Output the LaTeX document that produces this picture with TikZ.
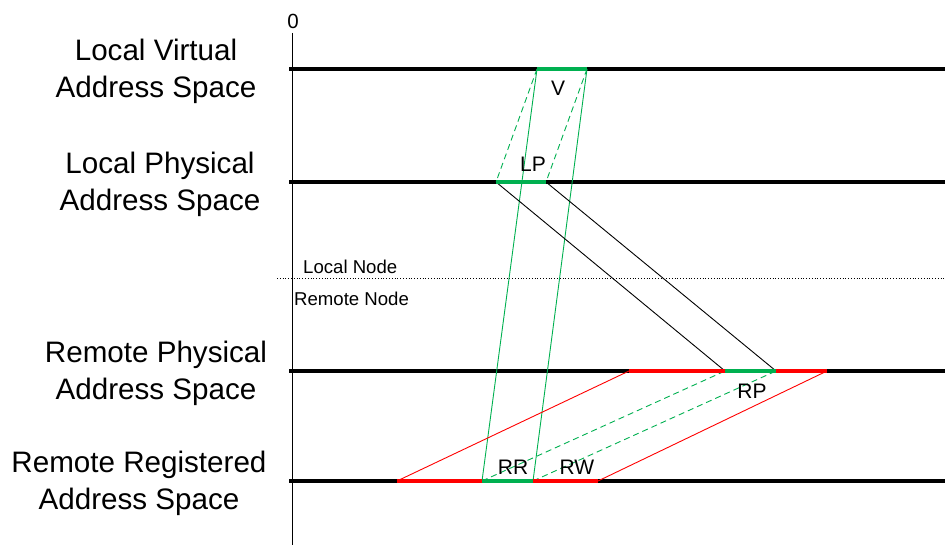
\documentclass[tikz,border=0pt]{standalone}
\usepackage{fontspec}
\setmainfont{Liberation Sans}
\definecolor{mygreen}{HTML}{00B050}
\definecolor{myred}{HTML}{FF0000}
\begin{document}
\begin{tikzpicture}[x=1pt,y=-1pt,
  axisline/.style={line width=4.5pt,black},
  greenseg/.style={line width=4.5pt,mygreen},
  redseg/.style={line width=4.5pt,myred},
  thinmap/.style={line width=0.9pt},
  biglabel/.style={font=\fontsize{29.6}{37}\selectfont,align=center,inner sep=0pt},
  seglabel/.style={font=\fontsize{21}{25}\selectfont,inner sep=0pt},
  smalllabel/.style={font=\fontsize{18.6}{22}\selectfont,inner sep=0pt}]
\useasboundingbox (0,0) rectangle (945,545);
% axis
\coordinate (axtop) at (292,33);
\coordinate (axbot) at (292,545);
\draw[line width=1pt] (axtop) -- (axbot);
\node[font=\fontsize{20.5}{24}\selectfont,inner sep=0pt] (zero) at (293,21) {0};
% horizontal address lines
\foreach \n/\y in {lv/69,lp/182,rp/371,rr/481}{
  \coordinate (\n L) at (289,\y);
  \coordinate (\n R) at (945,\y);
}
\draw[axisline] (lvL) -- (lvR);
\draw[axisline] (lpL) -- (lpR);
\draw[axisline] (rpL) -- (rpR);
\draw[axisline] (rrL) -- (rrR);
% separator
\coordinate (sepL) at (277,278);
\coordinate (sepR) at (945,278);
\draw[line width=0.8pt,dotted] (sepL) -- (sepR);
\node[smalllabel,anchor=west] (localnode) at (303,267) {Local Node};
\node[smalllabel,anchor=west] (remotenode) at (294,299) {Remote Node};
% segment coordinates
\coordinate (v1) at (537,69);  \coordinate (v2) at (587,69);
\coordinate (lp1) at (496,182); \coordinate (lp2) at (546,182);
\coordinate (rp0) at (629,371); \coordinate (rp1) at (725,371);
\coordinate (rp2) at (776,371); \coordinate (rp3) at (827,371);
\coordinate (rr0) at (397,481); \coordinate (rr1) at (482,481);
\coordinate (rr2) at (533,481); \coordinate (rr3) at (598,481);
% mapping lines
\draw[thinmap,mygreen,dashed,dash pattern=on 6pt off 4pt] (v1) -- (lp1) (v2) -- (lp2);
\draw[thinmap,mygreen] (v1) -- (rr1) (v2) -- (rr2);
\draw[thinmap,black] (lp1) -- (rp1) (lp2) -- (rp2);
\draw[thinmap,myred] (rr0) -- (rp0) (rr3) -- (rp3);
\draw[thinmap,mygreen,dashed,dash pattern=on 6pt off 4pt] (rr1) -- (rp1) (rr2) -- (rp2);
% coloured segments
\draw[greenseg] (v1) -- (v2);
\draw[greenseg] (lp1) -- (lp2);
\draw[redseg] (rp0) -- (rp1);
\draw[greenseg] (rp1) -- (rp2);
\draw[redseg] (rp2) -- (rp3);
\draw[redseg] (rr0) -- (rr1);
\draw[greenseg] (rr1) -- (rr2);
\draw[redseg] (rr2) -- (rr3);
% segment labels
\node[seglabel] (vlab) at (558,88) {V};
\node[seglabel] (lplab) at (533,164) {LP};
\node[seglabel] (rplab) at (752,391) {RP};
\node[seglabel] (rrlab) at (513,467) {RR};
\node[seglabel] (rwlab) at (577,467) {RW};
% space labels
\node[biglabel] (lvas) at (156,71) {Local Virtual\\Address Space};
\node[biglabel] (lpas) at (160,184) {Local Physical\\Address Space};
\node[biglabel] (rpas) at (156,373) {Remote Physical\\Address Space};
\node[biglabel] (rras) at (139,483) {Remote Registered\\Address Space};
\end{tikzpicture}
\end{document}
